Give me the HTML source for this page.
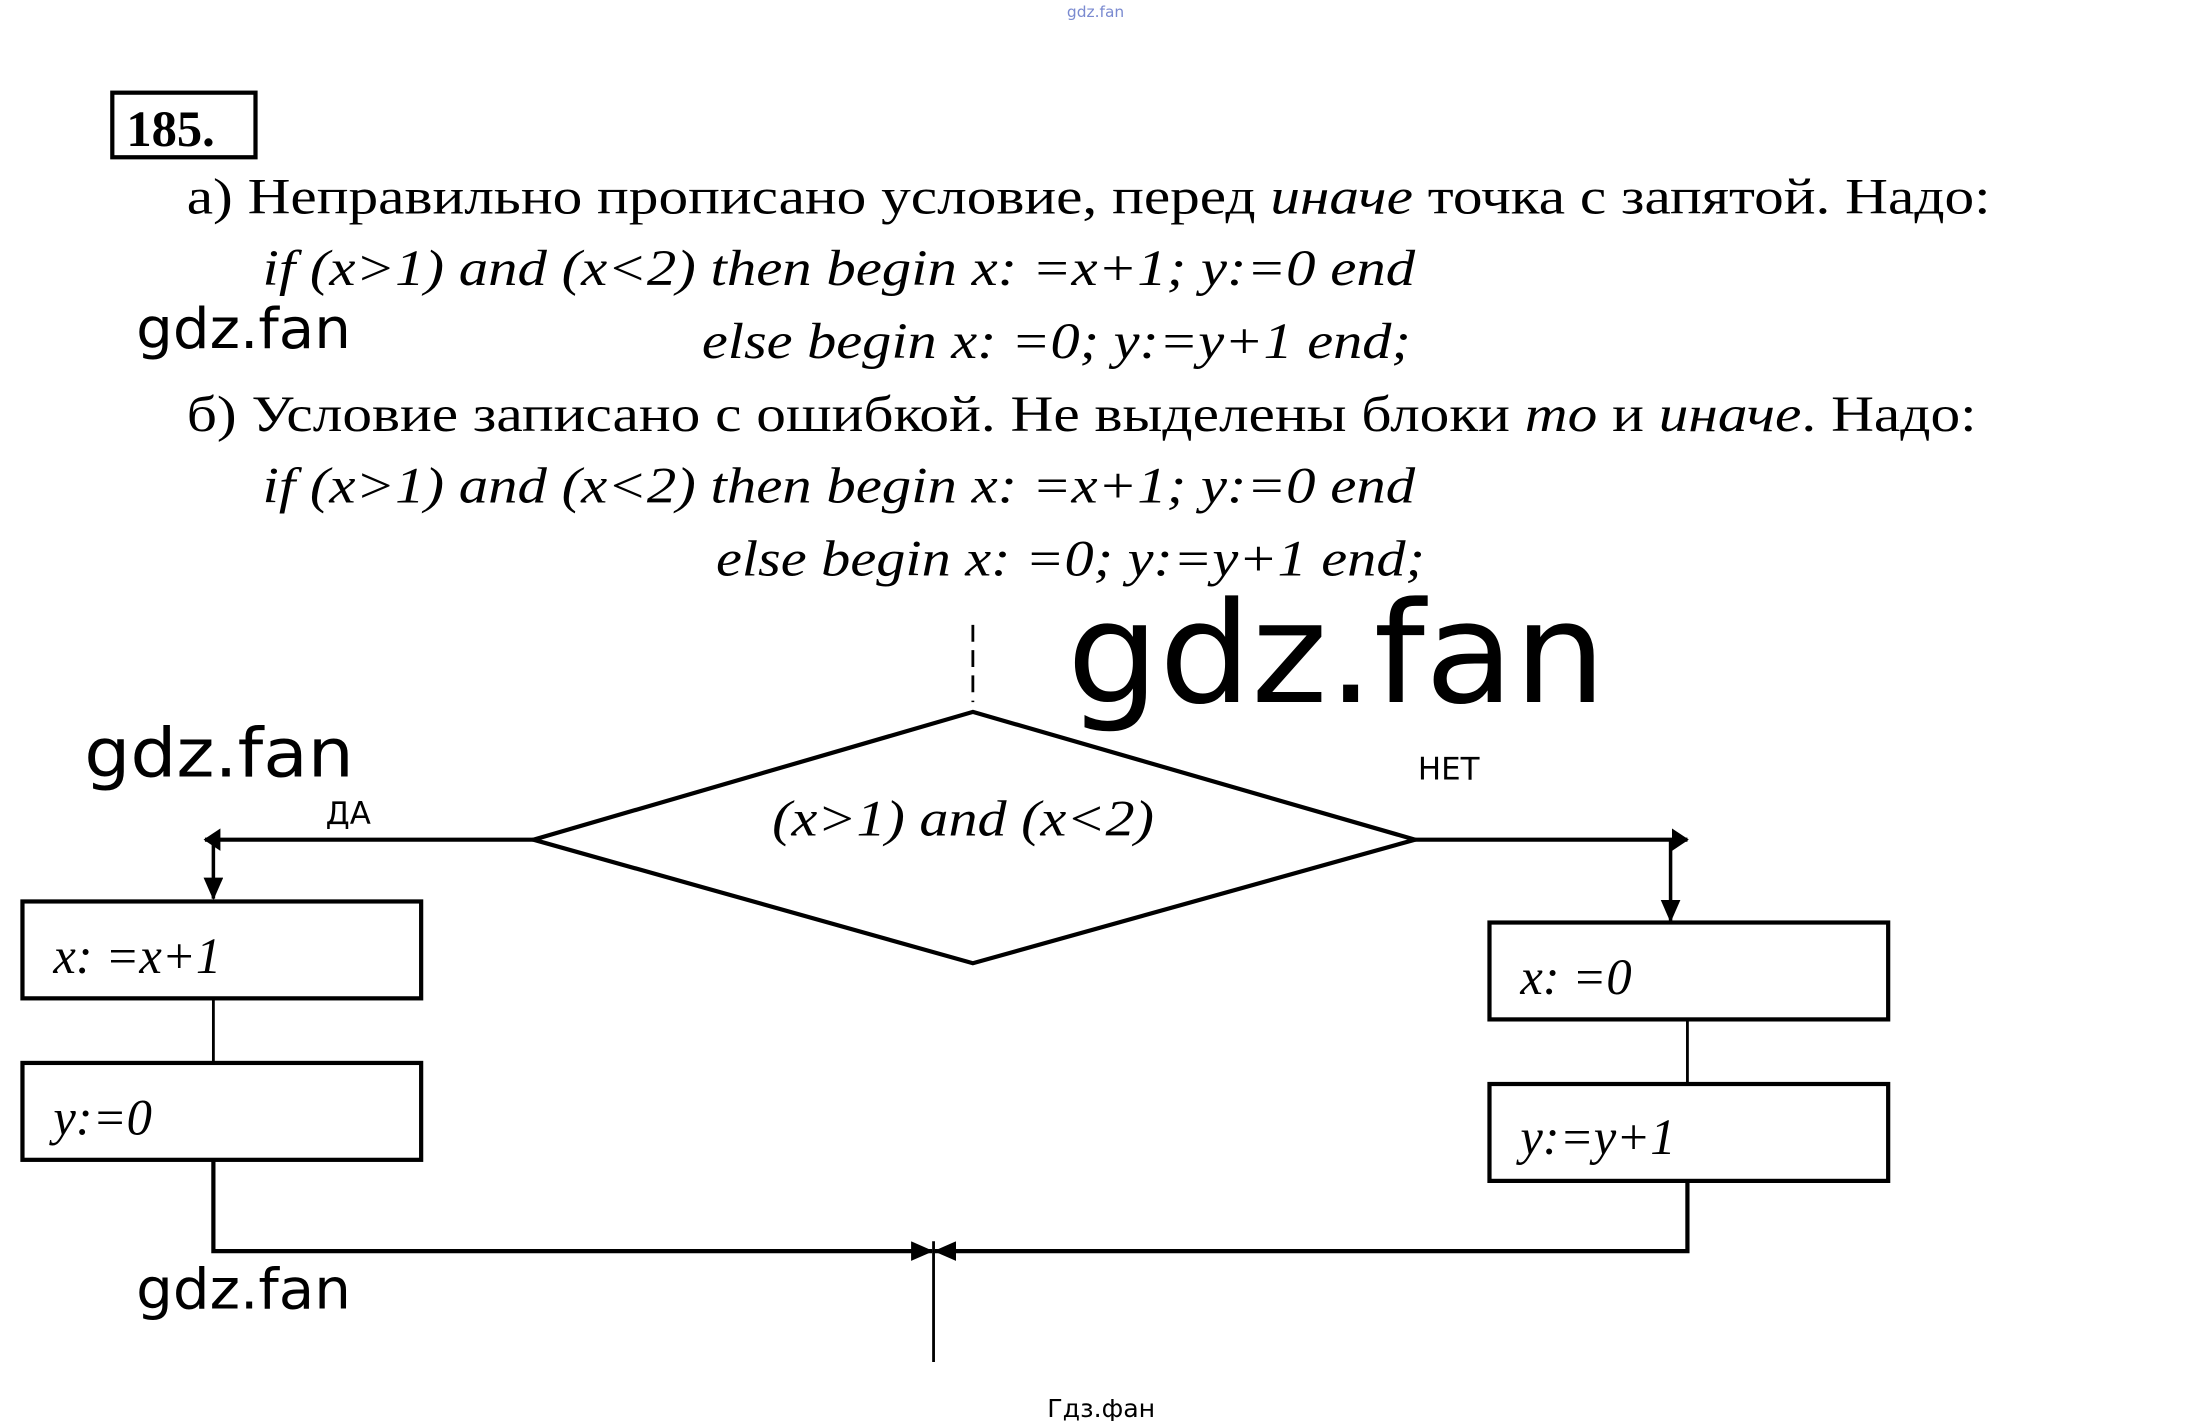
<!DOCTYPE html>
<html><head><meta charset="utf-8"><style>html,body{margin:0;padding:0;background:#fff}svg{display:block}</style></head>
<body>
<svg width="2190" height="1421" viewBox="0 0 1560 1012" preserveAspectRatio="none" xmlns="http://www.w3.org/2000/svg">
<defs>
<marker id="ah" markerWidth="12" markerHeight="16" refX="11" refY="8" orient="auto" markerUnits="userSpaceOnUse"><path d="M0,0 L12,8 L0,16 Z" fill="#000"/></marker>
<marker id="ahs" markerWidth="16" markerHeight="14" refX="15" refY="7" orient="auto" markerUnits="userSpaceOnUse"><path d="M0,0 L16,7 L0,14 Z" fill="#000"/></marker>
</defs>
<g font-family="DejaVu Sans, Liberation Sans, sans-serif">
<text x="760" y="12" font-size="11" fill="#7a8ad0">gdz.fan</text>
<text x="97" y="248" font-size="40" textLength="153" lengthAdjust="spacingAndGlyphs">gdz.fan</text>
<text x="60" y="553" font-size="48" textLength="192" lengthAdjust="spacingAndGlyphs">gdz.fan</text>
<text x="97" y="932" font-size="40" textLength="153" lengthAdjust="spacingAndGlyphs">gdz.fan</text>
<text x="760" y="500" font-size="100" textLength="384" lengthAdjust="spacingAndGlyphs">gdz.fan</text>
<text x="746" y="1009" font-size="18">Гдз.фан</text>
<text x="232" y="587" font-size="22">ДА</text>
<text x="1010" y="555" font-size="22">НЕТ</text>
</g>
<rect x="80" y="66" width="102" height="46" fill="none" stroke="#000" stroke-width="3"/>
<g font-family="Liberation Serif, DejaVu Serif, serif" font-size="36">
<text x="90" y="104" font-weight="bold" font-size="36">185.</text>
<text x="133" y="152" textLength="1285" lengthAdjust="spacingAndGlyphs">а)  Неправильно прописано условие, перед <tspan font-style="italic">иначе</tspan> точка с запятой. Надо:</text>
<text x="187" y="203" font-style="italic" textLength="821" lengthAdjust="spacingAndGlyphs">if (x&gt;1) and (x&lt;2) then begin x: =x+1; y:=0 end</text>
<text x="500" y="255" font-style="italic" textLength="505" lengthAdjust="spacingAndGlyphs">else begin x: =0; y:=y+1 end;</text>
<text x="133" y="307" textLength="1275" lengthAdjust="spacingAndGlyphs">б)  Условие записано с ошибкой. Не выделены блоки <tspan font-style="italic">то</tspan> и <tspan font-style="italic">иначе</tspan>. Надо:</text>
<text x="187" y="358" font-style="italic" textLength="821" lengthAdjust="spacingAndGlyphs">if (x&gt;1) and (x&lt;2) then begin x: =x+1; y:=0 end</text>
<text x="510" y="410" font-style="italic" textLength="505" lengthAdjust="spacingAndGlyphs">else begin x: =0; y:=y+1 end;</text>
<text x="550" y="595" font-style="italic" textLength="272" lengthAdjust="spacingAndGlyphs">(x&gt;1) and (x&lt;2)</text>
<text x="38" y="693" font-style="italic">x: =x+1</text>
<text x="38" y="808" font-style="italic">y:=0</text>
<text x="1083" y="708" font-style="italic">x: =0</text>
<text x="1083" y="822" font-style="italic">y:=y+1</text>
</g>
<g stroke="#000" fill="none">
<line x1="693" y1="445" x2="693" y2="500" stroke-width="2" stroke-dasharray="12,6"/>
<polygon points="693,507 1008,598 693,686 380,598" stroke-width="3"/>
<line x1="380" y1="598" x2="146" y2="598" stroke-width="3" marker-end="url(#ah)"/>
<line x1="152" y1="598" x2="152" y2="640" stroke-width="2.5" marker-end="url(#ahs)"/>
<rect x="16" y="642" width="284" height="69" stroke-width="3"/>
<line x1="152" y1="711" x2="152" y2="757" stroke-width="2"/>
<rect x="16" y="757" width="284" height="69" stroke-width="3"/>
<polyline points="152,826 152,891 664,891" stroke-width="3" marker-end="url(#ahs)"/>
<line x1="1008" y1="598" x2="1202" y2="598" stroke-width="3" marker-end="url(#ah)"/>
<line x1="1190" y1="598" x2="1190" y2="656" stroke-width="2.5" marker-end="url(#ahs)"/>
<rect x="1061" y="657" width="284" height="69" stroke-width="3"/>
<line x1="1202" y1="726" x2="1202" y2="772" stroke-width="2"/>
<rect x="1061" y="772" width="284" height="69" stroke-width="3"/>
<polyline points="1202,841 1202,891 666,891" stroke-width="3" marker-end="url(#ahs)"/>
<line x1="665" y1="884" x2="665" y2="970" stroke-width="2"/>
</g>
</svg>
</body></html>
